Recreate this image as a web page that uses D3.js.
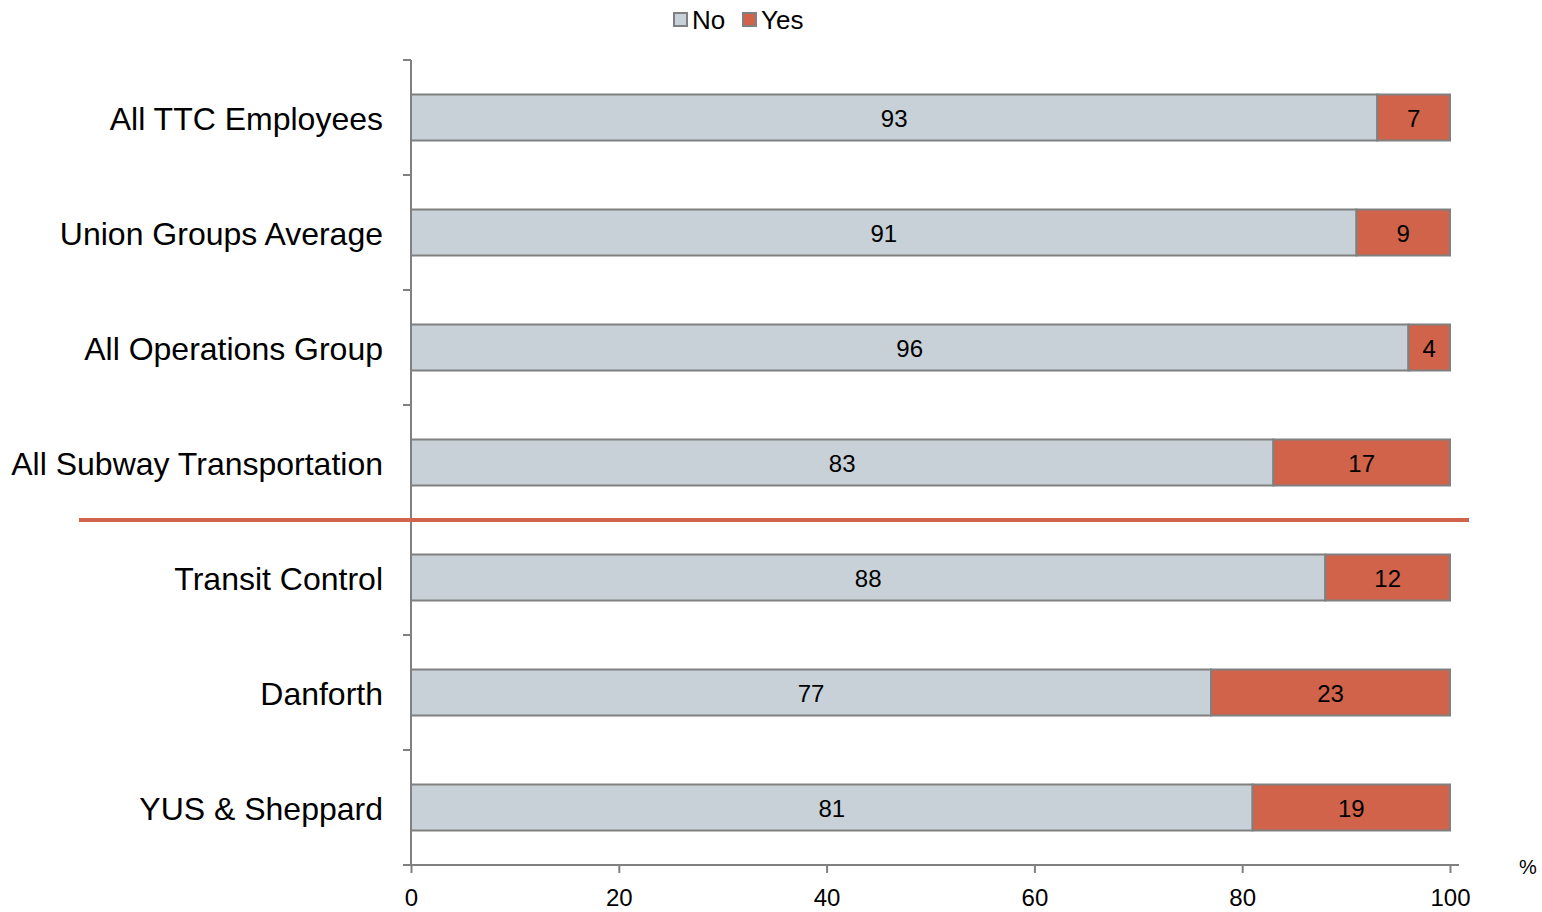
<!DOCTYPE html>
<html>
<head>
<meta charset="utf-8">
<script src="https://d3js.org/d3.v7.min.js"></script>
<style>
body { margin: 0; background: #fff; }
text { font-family: "Liberation Sans", Arial, sans-serif; }
</style>
</head>
<body>
<svg width="1542" height="912"></svg>
<script>
var categories = ["All TTC Employees", "Union Groups Average", "All Operations Group",
  "All Subway Transportation", "Transit Control", "Danforth", "YUS & Sheppard"];
var noValues = [93, 91, 96, 83, 88, 77, 81];
var yesValues = [7, 9, 4, 17, 12, 23, 19];
var xTicks = [0, 20, 40, 60, 80, 100];
var seriesNames = ["No", "Yes"];
var seriesColors = ["#c7d1d7", "#d0634a"];

var svg = d3.select("svg");
var plotLeft = 411, plotRight = 1450, plotTop = 60, plotBottom = 865;

var x = d3.scaleLinear().domain([0, 100]).range([plotLeft, plotRight]);
var y = d3.scaleBand().domain(categories).range([plotTop, plotBottom]).paddingInner(0.6).paddingOuter(0.3);

var rows = categories.map(function(c, i) { return {cat: c, no: noValues[i], yes: yesValues[i]}; });

// bars
var g = svg.append("g");
rows.forEach(function(d) {
  var parts = [{s: 0, v0: 0, v1: d.no}, {s: 1, v0: d.no, v1: d.no + d.yes}];
  parts.forEach(function(p) {
    g.append("rect")
      .attr("x", x(p.v0)).attr("y", y(d.cat))
      .attr("width", x(p.v1) - x(p.v0)).attr("height", y.bandwidth())
      .attr("fill", seriesColors[p.s]).attr("stroke", "#808080").attr("stroke-width", 2);
    g.append("text")
      .attr("x", (x(p.v0) + x(p.v1)) / 2).attr("y", y(d.cat) + y.bandwidth() / 2 + 1)
      .attr("dy", "0.36em").attr("text-anchor", "middle")
      .attr("font-size", 24).attr("fill", "#000")
      .text(p.v1 - p.v0);
  });
});

// y axis
var yAxisG = svg.append("g");
yAxisG.append("line").attr("x1", plotLeft).attr("x2", plotLeft).attr("y1", plotTop).attr("y2", plotBottom)
  .attr("stroke", "#808080").attr("stroke-width", 2);
var step = y.step();
d3.range(categories.length + 1).forEach(function(i) {
  var yy = plotTop + i * step;
  yAxisG.append("line").attr("x1", plotLeft - 8).attr("x2", plotLeft).attr("y1", yy).attr("y2", yy)
    .attr("stroke", "#808080").attr("stroke-width", 2);
});
categories.forEach(function(c) {
  yAxisG.append("text").attr("x", 383).attr("y", y(c) + y.bandwidth() / 2 + 1)
    .attr("dy", "0.36em").attr("text-anchor", "end").attr("font-size", 32).attr("fill", "#000")
    .text(c);
});

// x axis
var xAxisG = svg.append("g").attr("transform", "translate(0," + plotBottom + ")")
  .call(d3.axisBottom(x).tickValues(xTicks).tickSize(8).tickPadding(16));
xAxisG.select(".domain").remove();
xAxisG.append("line").attr("x1", plotLeft - 8).attr("x2", plotRight + 9).attr("y1", 0).attr("y2", 0)
  .attr("stroke", "#808080").attr("stroke-width", 2);
xAxisG.selectAll(".tick line").attr("stroke", "#808080").attr("stroke-width", 2);
xAxisG.selectAll(".tick text").attr("font-size", 24).attr("fill", "#000")
  .attr("font-family", "Liberation Sans, Arial, sans-serif");
svg.append("text").attr("x", 1528).attr("y", 874).attr("text-anchor", "middle")
  .attr("font-size", 20).attr("fill", "#000").text("%");

// separator line
var sepY = plotTop + 4 * step;
svg.append("line").attr("x1", 79).attr("x2", 1469).attr("y1", sepY).attr("y2", sepY)
  .attr("stroke", "#d0634a").attr("stroke-width", 4);

// legend
var legend = svg.append("g");
var lx = [674, 743];
seriesNames.forEach(function(n, i) {
  legend.append("rect").attr("x", lx[i]).attr("y", 13).attr("width", 13).attr("height", 13)
    .attr("fill", seriesColors[i]).attr("stroke", "#808080").attr("stroke-width", 2);
  legend.append("text").attr("x", lx[i] + 18).attr("y", 20).attr("dy", "0.36em")
    .attr("font-size", 26).attr("fill", "#000").text(n);
});
</script>
</body>
</html>
